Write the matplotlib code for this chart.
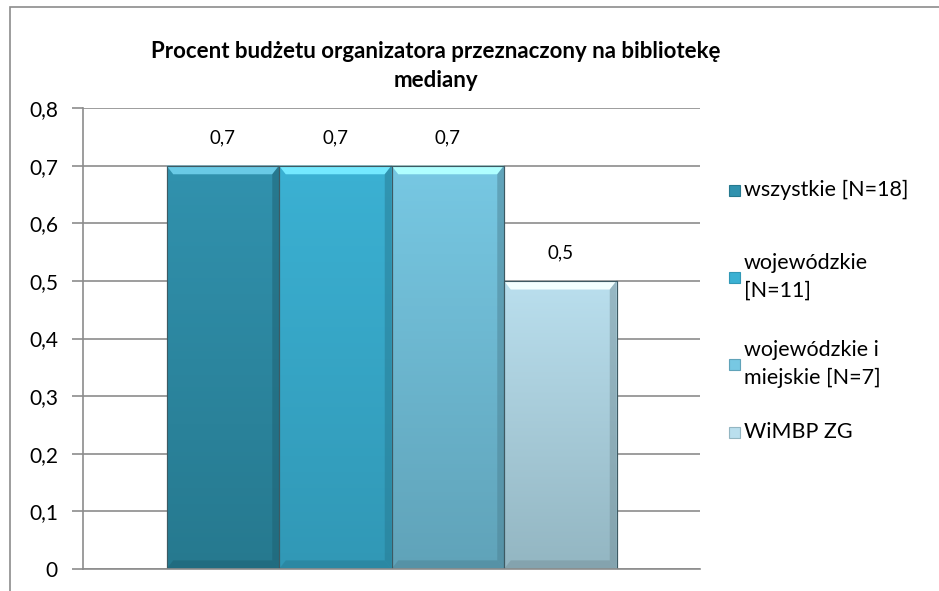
import matplotlib
matplotlib.use("Agg")
import matplotlib.pyplot as plt
import numpy as np
from matplotlib.patches import Rectangle, Polygon
from matplotlib.colors import to_rgb

title = "Procent budżetu organizatora przeznaczony na bibliotekę\nmediany"
series = ["wszystkie [N=18]", "wojewódzkie\n[N=11]", "wojewódzkie i\nmiejskie [N=7]", "WiMBP ZG"]
values = [0.7, 0.7, 0.7, 0.5]
labels = ["0,7", "0,7", "0,7", "0,5"]
yticks = [0, 0.1, 0.2, 0.3, 0.4, 0.5, 0.6, 0.7, 0.8]
top_colors = ["#3192AE", "#3BB1D3", "#77C8E3", "#BADFEE"]
bot_colors = ["#26798F", "#3198B6", "#60A3B9", "#93B6C2"]

plt.rcParams['font.family'] = ['Lato', 'DejaVu Sans']
W, H = 939, 591
fig = plt.figure(figsize=(W / 100, H / 100), dpi=100)
fig.patch.set_facecolor("white")

# chart frame
fig.patches.append(Rectangle((10 / W, -0.1), 1.0, (H - 7) / H + 0.1,
                             transform=fig.transFigure, fill=False, edgecolor="#8c8c8c", lw=1.2))

ax = fig.add_axes([83 / W, 1 - 569 / H, (700 - 83) / W, (569 - 108) / H])
ax.set_xlim(-0.5, 0.5)
ax.set_ylim(0, 0.8)
ax.set_yticks(yticks)
ax.set_yticklabels([("%.1f" % t).replace(".", ",") if t else "0" for t in yticks], fontsize=15)
ax.set_xticks([])
for s in ["top", "right"]:
    ax.spines[s].set_visible(False)
for s in ["left", "bottom"]:
    ax.spines[s].set_color("#8c8c8c")
    ax.spines[s].set_linewidth(1.2)
ax.tick_params(axis="y", length=8, width=1.2, color="#8c8c8c", pad=10)
ax.grid(axis="y", color="#8c8c8c", lw=1.2)
ax.set_axisbelow(True)

n = len(values)
w = 450 / 617 / n
offs = (np.arange(n) - (n - 1) / 2) * w
bars = ax.bar(offs, values, width=w, color=top_colors, edgecolor="#3d5a63", linewidth=0.8, zorder=2)

for i, (b, v) in enumerate(zip(bars, values)):
    x0 = offs[i] - w / 2
    c1 = np.array(to_rgb(top_colors[i]))
    c2 = np.array(to_rgb(bot_colors[i]))
    t = np.linspace(0, 1, 100)[:, None]
    grad = (c1 * (1 - t) + c2 * t)[:, None, :]
    im = ax.imshow(grad, extent=[x0, x0 + w, 0, v], aspect="auto", zorder=2.1, origin="upper")
    im.set_clip_path(b)
    bh = 0.015
    bw = w * 0.06
    hl = np.minimum(c1 + 0.22, 1)
    ax.add_patch(Polygon([[x0, v], [x0 + w, v], [x0 + w - bw, v - bh], [x0 + bw, v - bh]],
                         closed=True, facecolor=hl, edgecolor="none", zorder=2.2))
    dk = c2 * 0.8
    ax.add_patch(Polygon([[x0 + w, v], [x0 + w, 0], [x0 + w - bw, bh], [x0 + w - bw, v - bh]],
                         closed=True, facecolor=dk, edgecolor="none", alpha=0.5, zorder=2.2))
    ax.add_patch(Polygon([[x0, 0], [x0 + w, 0], [x0 + w - bw, bh], [x0 + bw, bh]],
                         closed=True, facecolor=dk, edgecolor="none", alpha=0.5, zorder=2.2))
    ax.add_patch(Rectangle((x0, 0), w, v, fill=False, edgecolor="#3d5a63", lw=0.8, zorder=2.3))
    ax.text(offs[i], v + 0.048, labels[i], ha="center", va="center", fontsize=13.5, color="black")
ax.set_ylim(0, 0.8)
ax.set_xlim(-0.5, 0.5)

fig.text(436 / W, 1 - 66 / H, title, ha="center", va="center", fontsize=16, fontweight="bold",
         linespacing=1.5)

# legend
leg_y = [190, 277, 364, 432]
for i, (s, y) in enumerate(zip(series, leg_y)):
    sx, sy, ss = 729 / W, 1 - (y + 6) / H, 11
    fig.patches.append(Rectangle((sx, sy), ss / W, ss / H, transform=fig.transFigure,
                                 facecolor=top_colors[i], edgecolor=bot_colors[i], lw=0.8))
    fig.text(744 / W, 1 - y / H, s, ha="left", va="center", fontsize=15.5, linespacing=1.45)

fig.savefig("out.png", dpi=100, facecolor="white")
